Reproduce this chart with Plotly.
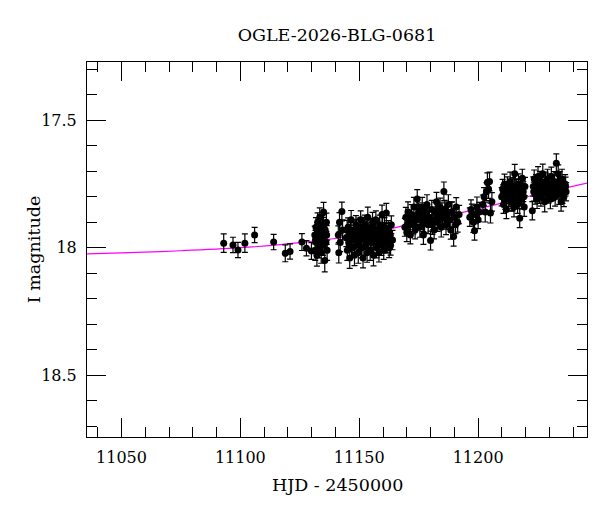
import plotly.graph_objects as go

# photometry (HJD - 2450000, I mag, error)
hjd_early = [11093.0, 11096.9, 11099.0, 11101.9, 11106.0, 11114.0, 11118.9, 11120.9, 11125.9, 11127.8, 11129.9]
mag_early = [17.982, 17.989, 18.009, 17.982, 17.950, 17.978, 18.022, 18.015, 17.978, 18.002, 18.013]
err_early = [0.036, 0.030, 0.030, 0.036, 0.030, 0.030, 0.033, 0.030, 0.033, 0.030, 0.033]

hjd_s1 = [11131.3, 11131.5, 11131.8, 11132.0, 11132.2, 11132.5, 11132.7, 11133.0, 11133.2, 11133.4, 11133.7,
          11134.0, 11134.2, 11134.5, 11134.7, 11135.0, 11135.2, 11135.5, 11135.7, 11136.0, 11136.2, 11136.5,
          11131.6, 11132.9, 11134.9, 11136.3]
mag_s1 = [17.95, 18.01, 17.92, 17.98, 18.03, 17.90, 17.96, 18.00, 17.93, 17.88, 17.97,
          18.02, 17.94, 17.91, 17.99, 17.86, 17.96, 18.05, 17.93, 17.98, 17.90, 18.01,
          17.97, 17.94, 17.92, 17.95]
err_s1 = [0.035, 0.040, 0.038, 0.036, 0.042, 0.037, 0.035, 0.040, 0.038, 0.036, 0.039,
          0.041, 0.035, 0.037, 0.040, 0.038, 0.036, 0.045, 0.037, 0.039, 0.036, 0.040,
          0.038, 0.036, 0.039, 0.037]

hjd_s2 = [11141.2, 11141.4, 11141.7, 11142.0, 11142.7, 11143.0, 11144.6, 11145.0, 11145.3, 11145.6, 11146.0,
          11146.3, 11146.6, 11147.0, 11147.3, 11147.6, 11148.0, 11148.3, 11148.6, 11149.0, 11149.3, 11149.6,
          11150.0, 11150.3, 11150.6, 11151.0, 11151.3, 11151.6, 11152.0, 11152.3, 11152.6, 11153.0, 11153.3,
          11153.6, 11154.0, 11154.3, 11154.6, 11155.0, 11155.3, 11155.6, 11156.0, 11156.3, 11156.6, 11157.0,
          11157.3, 11157.6, 11158.0, 11158.3, 11158.6, 11159.0, 11159.3, 11159.6, 11160.0, 11160.3, 11160.6,
          11161.0, 11161.4, 11161.8, 11162.2, 11162.6, 11163.0, 11163.5, 11164.0,
          11144.9, 11145.8, 11146.8, 11147.8, 11148.8, 11149.8, 11150.8, 11151.8, 11152.8, 11153.8,
          11154.8, 11155.8, 11156.8, 11157.8, 11158.8, 11159.8, 11160.8, 11161.6, 11162.4, 11163.2]
mag_s2 = [17.95, 18.02, 17.90, 17.98, 17.858, 17.93, 17.96, 18.01, 17.92, 17.98, 18.04,
          17.94, 17.89, 17.97, 18.00, 17.93, 18.03, 17.95, 17.91, 17.99, 17.96, 18.02,
          17.92, 17.97, 17.89, 18.00, 17.94, 18.04, 17.96, 17.91, 17.99, 17.93, 18.02,
          17.88, 17.97, 17.95, 18.01, 17.92, 17.98, 17.90, 18.03, 17.94, 17.96, 17.89,
          18.00, 17.93, 17.97, 18.02, 17.91, 17.95, 17.99, 17.87, 17.94, 18.01, 17.92,
          17.96, 17.864, 17.98, 17.93, 18.00, 17.95, 17.91, 17.97,
          17.93, 17.95, 18.00, 17.96, 17.93, 17.98, 17.95, 17.92, 17.97, 17.94,
          17.97, 17.95, 17.93, 17.99, 17.96, 17.92, 17.98, 17.94, 17.96, 17.99]
err_s2 = [0.036, 0.040, 0.038, 0.035, 0.037, 0.039, 0.036, 0.040, 0.037, 0.035, 0.041,
          0.038, 0.036, 0.039, 0.037, 0.035, 0.040, 0.038, 0.036, 0.039, 0.037, 0.041,
          0.036, 0.038, 0.035, 0.040, 0.037, 0.039, 0.036, 0.038, 0.040, 0.035, 0.037,
          0.039, 0.036, 0.038, 0.040, 0.035, 0.037, 0.039, 0.041, 0.036, 0.038, 0.035,
          0.040, 0.037, 0.039, 0.036, 0.038, 0.035, 0.040, 0.037, 0.039, 0.036, 0.038,
          0.035, 0.038, 0.040, 0.036, 0.039, 0.037, 0.035, 0.038,
          0.037, 0.039, 0.036, 0.038, 0.040, 0.035, 0.037, 0.039, 0.036, 0.038,
          0.040, 0.035, 0.037, 0.039, 0.036, 0.038, 0.040, 0.035, 0.037, 0.039]

hjd_s3 = [11169.2, 11169.6, 11170.0, 11170.5, 11171.0, 11171.5, 11172.0, 11172.5, 11173.0, 11173.5, 11174.0,
          11174.4, 11175.0, 11175.5, 11176.0, 11176.5, 11177.0, 11177.5, 11178.0, 11178.5, 11179.0, 11179.5,
          11180.0, 11180.5, 11181.0, 11181.5, 11182.0, 11182.5, 11183.0, 11183.5, 11184.0, 11184.5, 11185.0,
          11185.6, 11186.0, 11186.5, 11187.0, 11187.5, 11188.0, 11188.5, 11189.0, 11189.7, 11190.2, 11190.8,
          11191.4, 11192.0,
          11170.8, 11172.8, 11174.7, 11176.8, 11178.8, 11180.8, 11182.8, 11184.8, 11186.8, 11188.8, 11190.5]
mag_s3 = [17.92, 17.88, 17.94, 17.86, 17.91, 17.95, 17.87, 17.90, 17.84, 17.93, 17.89,
          17.809, 17.86, 17.92, 17.88, 17.84, 17.95, 17.90, 17.86, 17.83, 17.91, 17.88,
          17.972, 17.85, 17.89, 17.93, 17.86, 17.82, 17.90, 17.87, 17.84, 17.92, 17.88,
          17.779, 17.85, 17.91, 17.87, 17.83, 17.89, 17.93, 17.86, 17.956, 17.88, 17.84,
          17.90, 17.87,
          17.89, 17.91, 17.87, 17.90, 17.88, 17.91, 17.88, 17.86, 17.89, 17.86, 17.91]
err_s3 = [0.035, 0.038, 0.036, 0.040, 0.037, 0.035, 0.039, 0.036, 0.038, 0.035, 0.040,
          0.037, 0.036, 0.039, 0.035, 0.038, 0.037, 0.040, 0.036, 0.038, 0.035, 0.039,
          0.037, 0.036, 0.040, 0.035, 0.038, 0.037, 0.036, 0.039, 0.035, 0.038, 0.040,
          0.037, 0.036, 0.039, 0.035, 0.038, 0.037, 0.036, 0.040, 0.038, 0.035, 0.037,
          0.039, 0.036,
          0.038, 0.036, 0.039, 0.037, 0.035, 0.038, 0.040, 0.036, 0.037, 0.039, 0.035]

hjd_s4 = [11196.5, 11197.0, 11197.4, 11198.0, 11198.5, 11199.0, 11199.5, 11200.0, 11200.5, 11202.0,
          11202.5, 11203.0, 11203.5, 11203.9, 11204.4, 11204.8, 11205.2, 11205.8]
mag_s4 = [17.88, 17.85, 17.864, 17.90, 17.933, 17.87, 17.84, 17.89, 17.86, 17.83,
          17.80, 17.86, 17.78, 17.744, 17.77, 17.74, 17.864, 17.82]
err_s4 = [0.036, 0.038, 0.035, 0.040, 0.037, 0.036, 0.039, 0.035, 0.038, 0.037,
          0.036, 0.039, 0.035, 0.038, 0.036, 0.037, 0.039, 0.036]

hjd_s5 = [11209.9, 11210.3, 11210.7, 11211.1, 11211.5, 11211.9, 11212.3, 11212.7, 11213.1, 11213.5, 11213.9,
          11214.3, 11214.7, 11215.1, 11215.4, 11215.8, 11216.2, 11216.6, 11217.0, 11217.5, 11217.9, 11218.3,
          11218.6, 11219.0, 11219.4, 11219.7,
          11210.5, 11211.3, 11212.5, 11213.3, 11214.5, 11215.6, 11216.4, 11217.2, 11218.1, 11219.2]
mag_s5 = [17.80, 17.77, 17.83, 17.75, 17.79, 17.85, 17.76, 17.81, 17.78, 17.74, 17.82,
          17.79, 17.76, 17.84, 17.710, 17.80, 17.77, 17.83, 17.75, 17.884, 17.79, 17.81,
          17.727, 17.78, 17.84, 17.76,
          17.79, 17.81, 17.78, 17.80, 17.82, 17.77, 17.79, 17.81, 17.76, 17.80]
err_s5 = [0.036, 0.038, 0.035, 0.039, 0.037, 0.036, 0.038, 0.035, 0.040, 0.037, 0.036,
          0.038, 0.035, 0.039, 0.037, 0.036, 0.038, 0.035, 0.040, 0.037, 0.036, 0.038,
          0.035, 0.039, 0.037, 0.036,
          0.037, 0.039, 0.036, 0.038, 0.035, 0.040, 0.037, 0.036, 0.038, 0.039]

hjd_s6 = [11222.8, 11223.2, 11223.6, 11224.0, 11224.4, 11224.8, 11225.2, 11225.6, 11226.0, 11226.4, 11226.8,
          11227.2, 11227.6, 11228.0, 11228.4, 11228.8, 11229.2, 11229.6, 11230.0, 11230.4, 11230.8, 11231.2,
          11231.6, 11232.0, 11232.4, 11232.9, 11233.3, 11233.7, 11234.1, 11234.5, 11234.9, 11235.3, 11235.7,
          11236.1, 11236.6, 11237.0,
          11223.4, 11224.6, 11225.8, 11227.0, 11228.2, 11229.4, 11230.6, 11231.8, 11233.0, 11234.3, 11235.5, 11236.8]
mag_s6 = [17.855, 17.76, 17.73, 17.79, 17.75, 17.81, 17.72, 17.77, 17.74, 17.80, 17.76,
          17.71, 17.78, 17.82, 17.74, 17.77, 17.73, 17.79, 17.75, 17.81, 17.72, 17.76,
          17.78, 17.74, 17.80, 17.668, 17.75, 17.71, 17.79, 17.76, 17.82, 17.73, 17.77,
          17.80, 17.75, 17.78,
          17.78, 17.76, 17.79, 17.75, 17.77, 17.76, 17.78, 17.75, 17.77, 17.74, 17.79, 17.76]
err_s6 = [0.036, 0.038, 0.035, 0.039, 0.037, 0.036, 0.038, 0.035, 0.040, 0.037, 0.036,
          0.038, 0.035, 0.039, 0.037, 0.036, 0.038, 0.035, 0.040, 0.037, 0.036, 0.038,
          0.035, 0.039, 0.037, 0.036, 0.038, 0.035, 0.040, 0.037, 0.036, 0.038, 0.035,
          0.039, 0.037, 0.036,
          0.037, 0.039, 0.036, 0.038, 0.035, 0.040, 0.037, 0.036, 0.038, 0.039, 0.036, 0.037]

# model curve
model_hjd = [11035.5, 11050, 11075, 11100, 11125, 11150, 11163, 11180, 11205, 11225, 11246]
model_mag = [18.024, 18.020, 18.012, 18.000, 17.980, 17.950, 17.926, 17.890, 17.836, 17.790, 17.746]

hjd = hjd_early + hjd_s1 + hjd_s2 + hjd_s3 + hjd_s4 + hjd_s5 + hjd_s6
mag = mag_early + mag_s1 + mag_s2 + mag_s3 + mag_s4 + mag_s5 + mag_s6
err = err_early + err_s1 + err_s2 + err_s3 + err_s4 + err_s5 + err_s6

font_serif = 'DejaVu Serif'

fig = go.Figure()
fig.add_trace(go.Scatter(x=model_hjd, y=model_mag, mode='lines', line=dict(color='#ff00ff', width=1.2, shape='spline'),
                         hoverinfo='skip'))
fig.add_trace(go.Scatter(x=hjd, y=mag, mode='markers', marker=dict(color='black', size=7),
                         error_y=dict(type='data', array=err, color='black', thickness=1.2, width=3)))

axis_common = dict(showgrid=False, zeroline=False, showline=True, linecolor='black', linewidth=1, mirror='allticks',
                   ticks='inside', ticklen=19, tickwidth=1, tickcolor='black', automargin=False,
                   tickfont=dict(family=font_serif, size=16, color='black'), ticklabelstandoff=6)
fig.update_xaxes(range=[11035.5, 11245.8], tick0=11050, dtick=50, tickformat='d',
                 minor=dict(ticks='inside', ticklen=10, tickcolor='black', dtick=10, tick0=11050, showgrid=False),
                 **axis_common)
fig.update_yaxes(range=[18.743, 17.271], tick0=17.5, dtick=0.5,
                 minor=dict(ticks='inside', ticklen=10, tickcolor='black', dtick=0.1, tick0=17.5, showgrid=False),
                 **axis_common)

# the page body adds an 8 px offset, so the figure is 8 px smaller and margins shifted
fig.update_layout(
    width=592, height=504, showlegend=False,
    paper_bgcolor='white', plot_bgcolor='white',
    margin=dict(l=79, r=13, t=54, b=75),
    title=dict(text='OGLE-2026-BLG-0681', x=0.5, xref='paper', y=1 - 27 / 504, yref='container', yanchor='middle',
               automargin=False, font=dict(family=font_serif, size=17.5, color='black')),
)
fig.add_annotation(text='HJD - 2450000', x=0.5, xref='paper', y=-0.129, yref='paper', yanchor='middle',
                   showarrow=False, font=dict(family=font_serif, size=17.5, color='black'))
fig.add_annotation(text='I magnitude', x=-0.1306, xref='paper', y=0.5, yref='paper', textangle=-90,
                   showarrow=False, font=dict(family=font_serif, size=17.5, color='black'))

fig.write_html("out.html")
